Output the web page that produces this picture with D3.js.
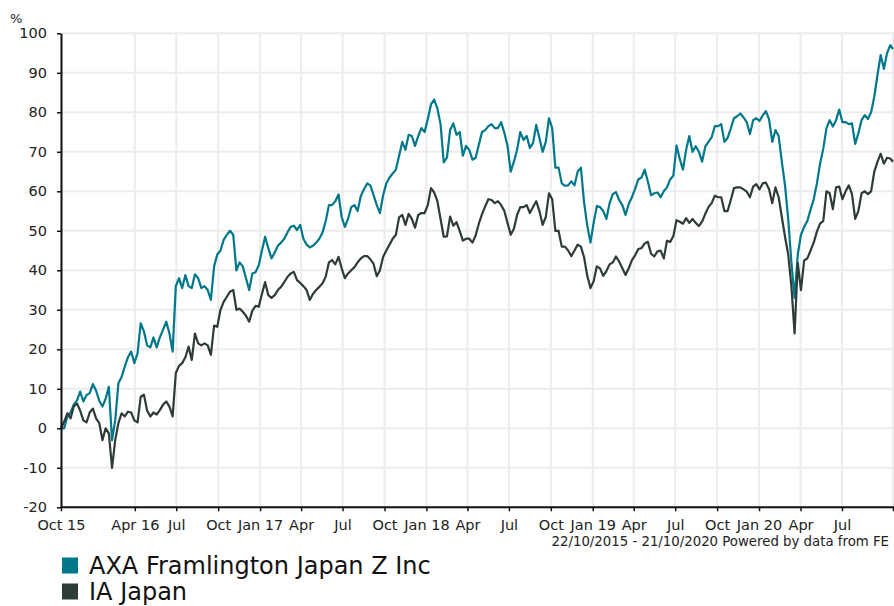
<!DOCTYPE html>
<html>
<head>
<meta charset="utf-8">
<script src="https://cdn.jsdelivr.net/npm/d3@7"></script>
<style>
    body { margin: 0; background: #fff; }
    svg { display: block; font-family: Verdana, "DejaVu Sans", sans-serif; }
</style>
</head>
<body>
<div id="chart"></div>
<script>
// cumulative performance, weekly readings from 22/10/2015
const startDate = '2015-10-22';
const endDate = '2020-10-21';

const seriesNames = ['AXA Framlington Japan Z Inc', 'IA Japan'];
const seriesColors = ['#00788a', '#2f3b38'];

const axaValues = [
    0, 0, 3, 4, 6, 7, 9.3, 6.8, 8.4, 8.9,
    11.2, 9.5, 7, 5.5, 7.5, 10.5, -3, 2, 11.4, 13,
    15.6, 18, 19.4, 16.5, 19, 26.6, 24.5, 21, 20.5, 23,
    20.5, 23, 25, 27, 24, 19.4, 36, 38, 35.5, 38.8,
    36, 35.5, 39, 38, 35.5, 36, 35, 32.5, 41, 44,
    45, 47.7, 49, 50,
    49, 40, 42, 41, 38, 35, 39.2, 39.5, 41.3, 45,
    48.5, 45.6, 43, 44.5, 46.2, 47, 48, 49.6, 51, 51.3,
    50.2, 51.5, 48, 46.5, 45.8, 46.2, 47, 48, 49.6, 52.5,
    56.5, 56.5, 57.5, 59.2, 53.5, 51, 53, 56, 56.5, 55,
    58.8, 60.5, 62, 61.5, 59, 56.5, 54.5, 59,
    62, 63.5, 64.5,
    65.5, 69, 72.5, 70.5, 74.3, 74, 71.5, 74, 76, 75,
    78.3, 82, 83.2, 81, 77, 67.3, 68.5, 75.5, 77.2, 74.3,
    75, 69, 71.5, 70.5, 68, 68.5, 71.8, 75, 75.5, 76.5,
    77, 76, 76, 77.5, 74.8, 71.5, 65, 67.5, 70.5, 75,
    73, 74, 71, 72.2, 76.8, 73.5, 70, 72.5, 78.5, 76,
    66, 66,
    62, 61.4, 61.5, 62.5, 61.5, 65, 66, 57.2, 51.3, 47,
    52, 56.3, 56, 55, 53, 57, 59.3, 59.8, 57.8, 56.5,
    54, 56.8, 58.5, 60.6, 63, 63.5, 65.5, 62.5, 59, 59.5,
    59.7, 58.5, 60, 61, 63, 64, 71.6, 68.2, 65.5, 70.5,
    74, 70, 71.4, 70, 67.5, 71.3, 72.5, 73.7, 76.5, 76.5,
    77, 72.5,
    73.5, 75.9, 78.5, 79, 79.7, 78.7, 77.5, 74.5, 78, 78.5,
    77.8, 79.2, 80.3, 78.2, 72.5, 75.5, 74, 67.5, 61.5, 53,
    42, 33, 44, 49, 51, 52.5, 55.3, 58, 62, 67,
    70.8, 76, 78, 76.4, 78, 80.7, 77.5, 77.5, 77, 77.2,
    72, 74.7, 78, 79.3, 78.3, 80, 84, 89.5, 94.5, 91,
    95, 97, 96
];

const iaValues = [
    0, 1.7, 3.8, 2.5, 5.5, 6.3, 4.5, 2, 1.5, 4,
    5, 2.5, 1.3, -3, 0, -1.3, -10, -3, 1.3, 3.8,
    3, 4.2, 4, 2, 1.5, 8, 8.5, 4.5, 3, 4,
    3.5, 4.6, 6, 6.8, 5.5, 3, 14, 15.8, 16.5, 18,
    20.7, 17.3, 24, 21.5, 21, 21.5, 21, 18.6, 26, 25.7,
    30, 32, 33.3, 34.6,
    35, 30, 30.3, 29.5, 28.5, 27, 29.8, 31, 30.8, 34,
    37, 33.7, 33, 33.7, 35, 35.8, 37, 38.3, 39.2, 39.6,
    37.5, 36.8, 36, 35, 32.5, 34, 35, 35.8, 36.7, 38.4,
    42, 42.6, 41.5, 43.4, 40.5, 38, 39.2, 40, 40.8, 42,
    43, 43.6, 43.6, 42.8, 41.6, 38.5, 40, 43.4,
    45, 46.5, 48,
    49, 53.4, 54, 51.5, 54.3, 53, 50.8, 54, 54.5, 54.5,
    56.5, 60.8, 59.7, 57.5, 53, 48.5, 48.6, 53.6, 51.3, 52.2,
    50, 47.5, 48, 48, 47, 48.8, 51.8, 54.2, 56.2, 58,
    57.8, 57, 57.5, 56.5, 55, 52, 49, 50.5, 54, 56,
    56, 56.5, 54.5, 56, 57.5, 55, 51.5, 53.5, 59.5, 58,
    50, 50,
    46, 46, 45, 43.6, 45, 46.5, 46, 43.3, 38.6, 35.5,
    37.2, 41, 40.5, 38.6, 39.8, 41.5, 42, 43.5, 42.2, 40.5,
    38.8, 40.5, 42.6, 43.8, 45.4, 45.6, 46.8, 47.2, 44.2, 43.5,
    44.8, 45, 43, 47.5, 47.2, 48.7, 52.7, 52.3, 51.8, 53.2,
    52, 53, 52, 51.2, 52.3, 54.3, 56, 57, 58.9, 58.5,
    58.5, 55,
    55, 57.8, 60.8, 61, 61, 60.5, 59.9, 58.5, 61.2, 61.8,
    60.5, 62, 62.2, 60.5, 57, 61, 58.5, 53.5, 48.5, 44,
    36, 24, 41.8, 35, 42.5, 43, 45, 47, 49.8, 51.8,
    52.5, 60, 59.5, 55.5, 61, 61.2, 58, 60, 61.5, 59.3,
    53, 55, 59.5, 60, 59.3, 60, 65, 67.5, 69.5, 67,
    68.5, 68.3, 67.5
];

const yTicks = [-20, -10, 0, 10, 20, 30, 40, 50, 60, 70, 80, 90, 100];

const xTickDates = [
    '2015-10-22', '2016-04-01', '2016-07-01', '2016-10-01', '2017-01-01',
    '2017-04-01', '2017-07-01', '2017-10-01', '2018-01-01', '2018-04-01',
    '2018-07-01', '2018-10-01', '2019-01-01', '2019-04-01', '2019-07-01',
    '2019-10-01', '2020-01-01', '2020-04-01', '2020-07-01', '2020-10-21'
];
const xTickLabels = [
    'Oct 15', 'Apr 16', 'Jul', 'Oct', 'Jan 17',
    'Apr', 'Jul', 'Oct', 'Jan 18', 'Apr',
    'Jul', 'Oct', 'Jan 19', 'Apr', 'Jul',
    'Oct', 'Jan 20', 'Apr', 'Jul', ''
];

const footerText = '22/10/2015 - 21/10/2020 Powered by data from FE';

function drawChart(target) {
    let w = 894, h = 606;
    let m = { left: 61, right: 893, top: 33.3, bottom: 507.3 };
    let parse = d3.timeParse('%Y-%m-%d');

    let start = parse(startDate), end = parse(endDate);
    let dates = d3.timeDay.range(start, end, 7);
    dates.push(end);

    let x = d3.scaleTime().domain([start, end]).range([m.left, m.right]);
    let y = d3.scaleLinear().domain([-20, 100]).range([m.bottom, m.top]);

    let svg = d3.select(target)
        .append('svg')
        .attr('width', w)
        .attr('height', h);

    let tickDates = xTickDates.map(parse);

    // grid
    svg.append('g')
        .selectAll('line')
        .data(yTicks)
        .enter()
        .append('line')
        .attr('x1', m.left).attr('x2', w)
        .attr('y1', d => y(d)).attr('y2', d => y(d))
        .attr('stroke', '#ececec')
        .attr('stroke-width', 2);

    svg.append('g')
        .selectAll('line')
        .data(tickDates)
        .enter()
        .append('line')
        .attr('x1', d => x(d)).attr('x2', d => x(d))
        .attr('y1', m.top).attr('y2', m.bottom)
        .attr('stroke', '#ececec')
        .attr('stroke-width', 2);

    // lines
    let series = [axaValues, iaValues];
    let line = d3.line()
        .x((d, i) => x(dates[i]))
        .y(d => y(d));

    series.forEach(function (vals, idx) {
        svg.append('path')
            .datum(vals)
            .attr('fill', 'none')
            .attr('stroke', seriesColors[idx])
            .attr('stroke-width', 2.2)
            .attr('stroke-linejoin', 'round')
            .attr('d', line);
    });

    // axes
    let xAxis = d3.axisBottom(x)
        .tickValues(tickDates)
        .tickFormat((d, i) => xTickLabels[i])
        .tickSize(4)
        .tickSizeOuter(0)
        .tickPadding(8);

    let yAxis = d3.axisLeft(y)
        .tickValues(yTicks)
        .tickFormat(d => String(d))
        .tickSize(4)
        .tickSizeOuter(0)
        .tickPadding(10);

    let gx = svg.append('g')
        .attr('transform', 'translate(0,' + m.bottom + ')')
        .call(xAxis);
    let gy = svg.append('g')
        .attr('transform', 'translate(' + m.left + ',0)')
        .call(yAxis);

    [gx, gy].forEach(function (g) {
        g.select('.domain').attr('stroke', '#111').attr('stroke-width', 2);
        g.selectAll('.tick line').attr('stroke', '#111').attr('stroke-width', 1.5);
        g.selectAll('.tick text')
            .attr('fill', '#222')
            .style('font-size', '14.5px')
            .style('font-family', 'Verdana, "DejaVu Sans", sans-serif');
    });
    gx.select('.domain').attr('d', 'M' + m.left + ',0H' + w);

    svg.append('text')
        .attr('x', 10).attr('y', 23)
        .attr('fill', '#222')
        .style('font-size', '13px')
        .text('%');

    svg.append('text')
        .attr('x', 889).attr('y', 546)
        .attr('text-anchor', 'end')
        .attr('fill', '#222')
        .style('font-size', '13.3px')
        .text(footerText);

    // legend
    let lg = svg.append('g')
        .selectAll('g')
        .data(seriesNames)
        .enter()
        .append('g')
        .attr('transform', (d, i) => 'translate(62,' + (557.5 + i * 26) + ')');

    lg.append('rect')
        .attr('width', 16).attr('height', 16)
        .attr('fill', (d, i) => seriesColors[i]);

    lg.append('text')
        .attr('x', 27).attr('y', 16)
        .attr('fill', '#111')
        .style('font-size', '24px')
        .text(d => d);
}

drawChart('#chart');
</script>
</body>
</html>
